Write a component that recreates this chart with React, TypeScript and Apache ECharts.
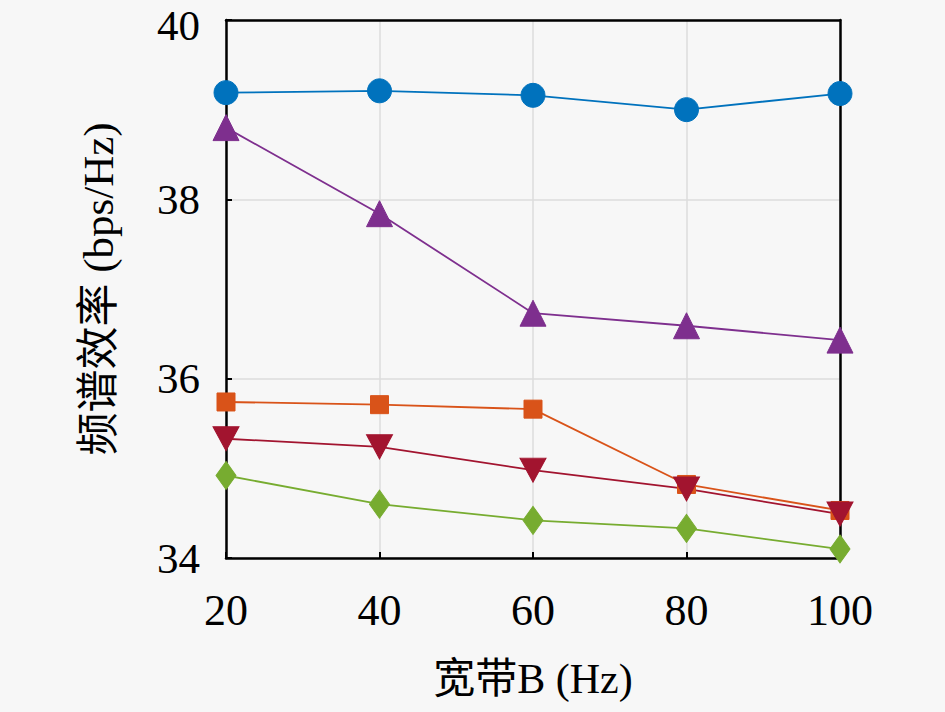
import React, { useEffect, useRef } from "react";
import * as echarts from "echarts";

const categories = ["20", "40", "60", "80", "100"];
const seriesBlue = [39.19, 39.21, 39.16, 39.0, 39.18];
const seriesPurple = [38.8, 37.84, 36.73, 36.59, 36.43];
const seriesOrange = [35.74, 35.71, 35.66, 34.82, 34.53];
const seriesRed = [35.33, 35.24, 34.98, 34.77, 34.49];
const seriesGreen = [34.92, 34.6, 34.42, 34.33, 34.1];

const FONT = "'Liberation Serif', 'Noto Sans CJK SC', serif";

export default function App() {
  const ref = useRef<HTMLDivElement>(null);
  useEffect(() => {
    document.body.style.margin = "0";
    document.body.style.background = "#f7f7f7";
    const chart = echarts.init(ref.current!, null, { renderer: "svg" });
    const mk = (data: number[], color: string, symbol: string, size: number | number[]) => ({
      type: "line",
      data,
      symbol,
      symbolSize: size,
      lineStyle: { color, width: 1.8 },
      itemStyle: { color, borderColor: color, borderWidth: 1 },
      z: 3,
    });
    const blackLine = { show: true, lineStyle: { color: "#000", width: 2.5 } };
    chart.setOption({
      animation: false,
      backgroundColor: "#f7f7f7",
      grid: {
        left: 226,
        right: 105,
        top: 20,
        bottom: 154,
      },
      xAxis: [
        {
          type: "category",
          data: categories,
          boundaryGap: false,
          name: "宽带B (Hz)",
          nameLocation: "middle",
          nameGap: 100,
          nameTextStyle: { fontFamily: FONT, fontSize: 42, color: "#000" },
          axisLine: blackLine,
          axisTick: { show: true, inside: true, length: 6, lineStyle: { color: "#000", width: 2 } },
          axisLabel: { fontFamily: FONT, fontSize: 44, color: "#000", margin: 30 },
          splitLine: { show: true, lineStyle: { color: "#dcdcdc", width: 1.5 } },
        },
        {
          type: "category",
          data: categories,
          boundaryGap: false,
          position: "top",
          axisLine: blackLine,
          axisTick: { show: false },
          axisLabel: { show: false },
          splitLine: { show: false },
        },
      ],
      yAxis: [
        {
          type: "value",
          min: 34,
          max: 40,
          interval: 2,
          name: "频谱效率 (bps/Hz)",
          nameLocation: "middle",
          nameGap: 106,
          nameTextStyle: { fontFamily: FONT, fontSize: 43, color: "#000" },
          axisLine: blackLine,
          axisTick: { show: true, inside: true, length: 6, lineStyle: { color: "#000", width: 2 } },
          axisLabel: {
            fontFamily: FONT,
            fontSize: 43,
            color: "#000",
            margin: 26,
            formatter: (v: number) => (v === 40 ? "{t|40}" : String(v)),
            rich: {
              t: { fontFamily: FONT, fontSize: 43, color: "#000", padding: [10, 0, 0, 0] },
            },
          },
          splitLine: { show: true, lineStyle: { color: "#dcdcdc", width: 1.5 } },
        },
        {
          type: "value",
          min: 34,
          max: 40,
          interval: 2,
          position: "right",
          axisLine: blackLine,
          axisTick: { show: false },
          axisLabel: { show: false },
          splitLine: { show: false },
        },
      ],
      series: [
        mk(seriesBlue, "#0072BD", "circle", 24),
        mk(seriesPurple, "#7E2F8E", "triangle", 26),
        mk(seriesOrange, "#D95319", "rect", 18),
        mk(seriesRed, "#A2142F", "path://M0,0 L10,0 L5,9 Z", [26, 24]),
        mk(seriesGreen, "#77AC30", "diamond", [20, 28]),
      ],
    });
    return () => chart.dispose();
  }, []);
  return <div ref={ref} style={{ width: 945, height: 712 }} />;
}
